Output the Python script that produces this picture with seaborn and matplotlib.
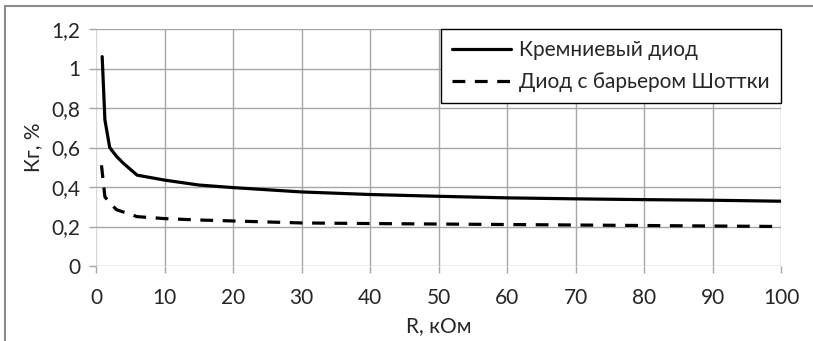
import numpy as np
import pandas as pd
import matplotlib
matplotlib.use('Agg')
import matplotlib.pyplot as plt
import seaborn as sns
from matplotlib.lines import Line2D

# данные
R_si = [0.9, 1.3, 2, 3, 4, 6, 10, 15, 20, 30, 40, 50, 60, 70, 80, 90, 100]
K_si = [1.06, 0.74, 0.60, 0.555, 0.52, 0.46, 0.435, 0.41, 0.397, 0.375,
        0.362, 0.353, 0.345, 0.34, 0.336, 0.333, 0.328]
R_sh = [0.8, 1.3, 2, 3, 6, 10, 15, 20, 30, 40, 60, 80, 100]
K_sh = [0.51, 0.35, 0.32, 0.285, 0.25, 0.24, 0.233, 0.228, 0.218, 0.215,
        0.21, 0.205, 0.2]
labels = ['Кремниевый диод', 'Диод с барьером Шоттки']
x_ticks = list(range(0, 101, 10))
y_ticks = [0, 0.2, 0.4, 0.6, 0.8, 1.0, 1.2]
y_ticklabels = ['0', '0,2', '0,4', '0,6', '0,8', '1', '1,2']

sns.set_style('white')
plt.rcParams['font.family'] = ['Lato', 'DejaVu Sans']

fig = plt.figure(figsize=(8.13, 3.41), dpi=100)
ax = fig.add_axes([96/813, 1-266/341, (781-96)/813, (266-29)/341])

grid_c = '#a6a6a6'
for v in x_ticks:
    ax.axvline(v, color=grid_c if v > 0 else '#d9d9d9', lw=1, zorder=0)
for v in y_ticks:
    ax.axhline(v, color=grid_c, lw=1, zorder=0)

sns.lineplot(x=R_si, y=K_si, ax=ax, color='black', lw=2.3, label=labels[0])
sns.lineplot(x=R_sh, y=K_sh, ax=ax, color='black', lw=2.3, label=labels[1])
ax.lines[-1].set_dashes((4.0, 3.0))

ax.set_xlim(0, 100)
ax.set_ylim(0, 1.2)
ax.set_xticks(x_ticks)
ax.set_yticks(y_ticks)
ax.set_yticklabels(y_ticklabels)
for s in ax.spines.values():
    s.set_visible(False)
ax.tick_params(axis='both', labelsize=15, length=5, color=grid_c, width=1,
               direction='out', bottom=True, left=True)
ax.tick_params(axis='x', pad=11)
ax.tick_params(axis='y', pad=6)
ax.set_xlabel('R, кОм', fontsize=15, labelpad=6)
ax.set_ylabel('Кг, %', fontsize=15, labelpad=6)

leg = ax.legend(loc='upper right', bbox_to_anchor=(1.0, 1.0), fontsize=15,
                frameon=True, fancybox=False, borderaxespad=0, handlelength=2.8,
                handletextpad=0.4, borderpad=0.55, labelspacing=0.55)
leg.get_frame().set_edgecolor('black')
leg.get_frame().set_linewidth(1)
leg.get_frame().set_facecolor('white')
leg.get_frame().set_alpha(1)

# рамка фрагмента документа
fig.add_artist(Line2D([5/813, 5/813], [0, 1-6/341], color='#8c8c8c', lw=1.5,
                      transform=fig.transFigure))
fig.add_artist(Line2D([5/813, 1], [1-6/341, 1-6/341], color='#8c8c8c', lw=1.5,
                      transform=fig.transFigure))

fig.savefig('out.png', dpi=100)
